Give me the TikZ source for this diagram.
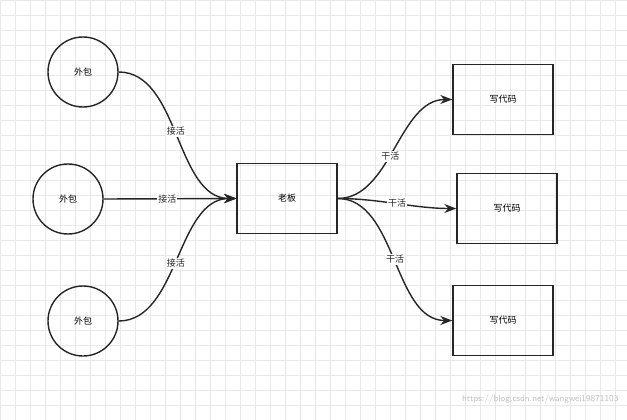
\documentclass[tikz,border=0pt]{standalone}
\usepackage{fontspec}
\newfontfamily\cjk{Noto Sans CJK SC}
\usetikzlibrary{arrows.meta}
\begin{document}
\begin{tikzpicture}[x=1pt,y=-1pt,
  circ/.style={draw=black!85,line width=1.4pt,circle,minimum size=70pt,inner sep=0pt,font=\cjk\fontsize{9}{10}\selectfont},
  box/.style={draw=black!85,line width=1.4pt,minimum width=100pt,minimum height=70pt,inner sep=0pt,font=\cjk\fontsize{9}{10}\selectfont},
  conn/.style={draw=black!85,line width=1.4pt,-{Stealth[length=12pt,width=9pt]}},
  lbl/.style={fill=white,inner sep=1pt,font=\cjk\fontsize{9}{10}\selectfont,text=black!85}]
\useasboundingbox (0,0) rectangle (627,420);
\fill[white] (0,0) rectangle (627,420);
\draw[black!9,line width=0.6pt,step=15pt] (0,0) grid (627,420);
\node[circ] (c1) at (83,72) {外包};
\node[circ] (c2) at (68,199) {外包};
\node[circ] (c3) at (83,321) {外包};
\node[box] (b) at (287,198.5) {老板};
\node[box] (r1) at (503,99.5) {写代码};
\node[box] (r2) at (507,208.5) {写代码};
\node[box] (r3) at (503,320.5) {写代码};
\draw[conn] (c1.east) to[out=0,in=180,looseness=0.9] node[lbl,pos=0.48] {接活} (b.west);
\draw[conn] (c2.east) -- node[lbl,pos=0.48] {接活} (b.west);
\draw[conn] (c3.east) to[out=0,in=180,looseness=0.9] node[lbl,pos=0.48] {接活} (b.west);
\draw[conn] (b.east) to[out=0,in=180,looseness=0.9] node[lbl,pos=0.45] {干活} (r1.west);
\draw[conn] (b.east) to[out=0,in=180,looseness=0.9] node[lbl,pos=0.5] {干活} (r2.west);
\draw[conn] (b.east) to[out=0,in=180,looseness=0.9] node[lbl,pos=0.5] {干活} (r3.west);
\node[text=black!25,font=\sffamily\fontsize{9}{10}\selectfont,anchor=east] (wm) at (622,399) {https://blog.csdn.net/wangwei19871103};
\end{tikzpicture}
\end{document}
